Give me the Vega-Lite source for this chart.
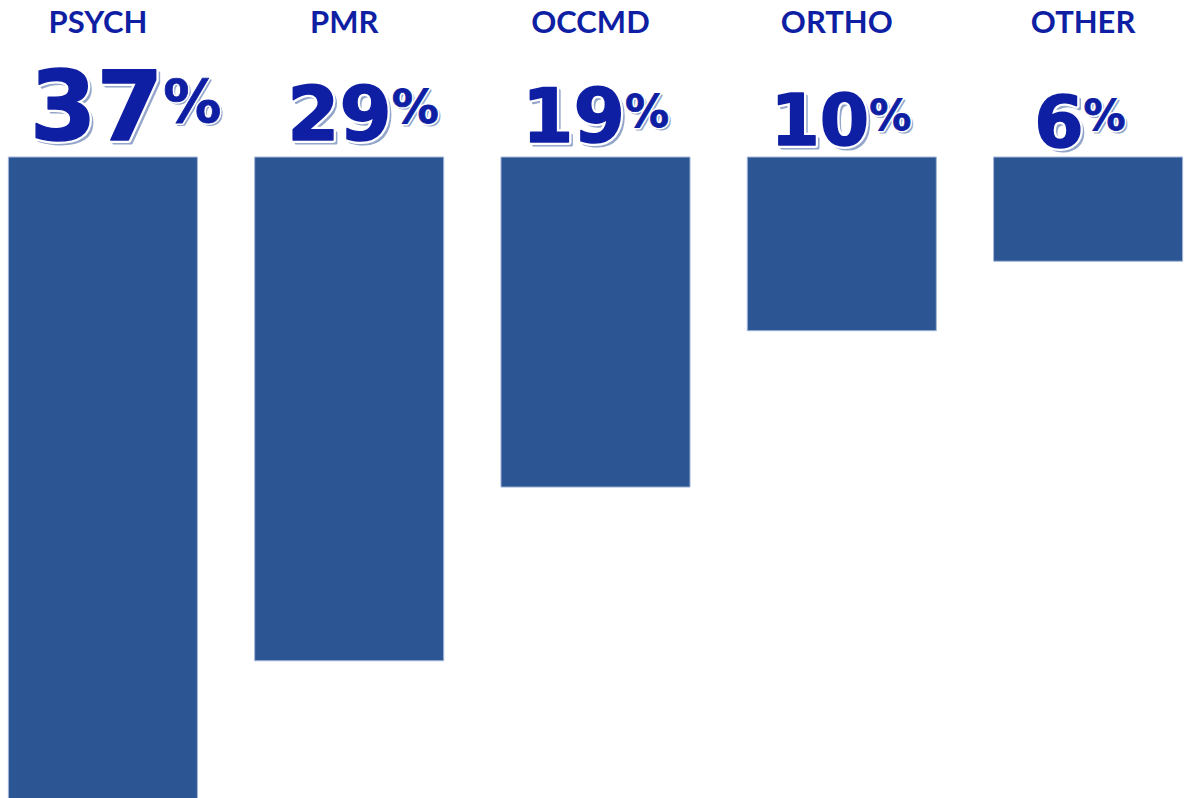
{
  "$schema": "https://vega.github.io/schema/vega-lite/v6.json",
  "width": 1191,
  "height": 798,
  "autosize": "none",
  "padding": 0,
  "background": "white",
  "config": {"view": {"stroke": null}},
  "data": {"values": [
    {"cat": "PSYCH", "value": 37},
    {"cat": "PMR", "value": 29},
    {"cat": "OCCMD", "value": 19},
    {"cat": "ORTHO", "value": 10},
    {"cat": "OTHER", "value": 6}
  ]},
  "resolve": {"scale": {"x": "independent", "xOffset": "independent", "yOffset": "independent", "size": "independent"}},
  "layer": [
    {
      "mark": {"type": "bar", "color": "#2c5593", "stroke": "#a3b6d8", "strokeWidth": 1},
      "encoding": {
        "x": {"field": "cat", "type": "nominal", "sort": null, "axis": null,
              "scale": {"type": "band", "paddingInner": 0.2325, "paddingOuter": 0.034}},
        "y": {"field": "value", "type": "quantitative", "axis": null,
              "scale": {"domain": [-9.04, 36.9], "reverse": true, "nice": false, "zero": false}},
        "y2": {"datum": 0}
      }
    },
    {
      "mark": {"type": "text", "font": "Lato", "fontWeight": "bold", "fontSize": 31, "color": "#0f1fa3", "align": "center", "baseline": "alphabetic", "dx": -5},
      "encoding": {
        "x": {"field": "cat", "type": "nominal", "sort": null, "axis": null,
              "scale": {"type": "band", "paddingInner": 0.2325, "paddingOuter": 0.034}},
        "y": {"datum": -7.14, "type": "quantitative"},
        "text": {"field": "cat"}
      }
    },
    {
      "mark": {"type": "text", "font": "DejaVu Sans", "fontWeight": "bold", "color": "#94a7ca", "stroke": "#94a7ca", "strokeWidth": 3, "strokeJoin": "round", "align": "right", "baseline": "alphabetic", "dx": 3, "dy": 3},
      "encoding": {
        "x": {"field": "cat", "type": "nominal", "sort": null, "axis": null,
              "scale": {"type": "band", "paddingInner": 0.2325, "paddingOuter": 0.034}},
        "xOffset": {"field": "value", "type": "quantitative", "scale": {"domain": [6, 10, 19, 29, 37], "range": [90, 122, 124, 137, 155]}},
        "y": {"datum": 0, "type": "quantitative"},
        "yOffset": {"field": "value", "type": "quantitative", "scale": {"domain": [6, 10, 19, 29, 37], "range": [-10, -12, -15, -17, -17]}},
        "size": {"field": "value", "type": "quantitative", "legend": null, "scale": {"domain": [6, 10, 19, 29, 37], "range": [71, 71, 74, 75, 96]}},
        "text": {"field": "value", "type": "quantitative"}
      }
    },
    {
      "mark": {"type": "text", "font": "DejaVu Sans", "fontWeight": "bold", "color": "white", "stroke": "white", "strokeWidth": 6, "strokeJoin": "round", "align": "right", "baseline": "alphabetic"},
      "encoding": {
        "x": {"field": "cat", "type": "nominal", "sort": null, "axis": null,
              "scale": {"type": "band", "paddingInner": 0.2325, "paddingOuter": 0.034}},
        "xOffset": {"field": "value", "type": "quantitative", "scale": {"domain": [6, 10, 19, 29, 37], "range": [90, 122, 124, 137, 155]}},
        "y": {"datum": 0, "type": "quantitative"},
        "yOffset": {"field": "value", "type": "quantitative", "scale": {"domain": [6, 10, 19, 29, 37], "range": [-10, -12, -15, -17, -17]}},
        "size": {"field": "value", "type": "quantitative", "legend": null, "scale": {"domain": [6, 10, 19, 29, 37], "range": [71, 71, 74, 75, 96]}},
        "text": {"field": "value", "type": "quantitative"}
      }
    },
    {
      "mark": {"type": "text", "font": "DejaVu Sans", "fontWeight": "bold", "color": "#0f1fa3", "stroke": "#0f1fa3", "strokeWidth": 1.5, "strokeJoin": "round", "align": "right", "baseline": "alphabetic"},
      "encoding": {
        "x": {"field": "cat", "type": "nominal", "sort": null, "axis": null,
              "scale": {"type": "band", "paddingInner": 0.2325, "paddingOuter": 0.034}},
        "xOffset": {"field": "value", "type": "quantitative", "scale": {"domain": [6, 10, 19, 29, 37], "range": [90, 122, 124, 137, 155]}},
        "y": {"datum": 0, "type": "quantitative"},
        "yOffset": {"field": "value", "type": "quantitative", "scale": {"domain": [6, 10, 19, 29, 37], "range": [-10, -12, -15, -17, -17]}},
        "size": {"field": "value", "type": "quantitative", "legend": null, "scale": {"domain": [6, 10, 19, 29, 37], "range": [71, 71, 74, 75, 96]}},
        "text": {"field": "value", "type": "quantitative"}
      }
    },
    {
      "mark": {"type": "text", "font": "DejaVu Sans", "fontWeight": "bold", "color": "#94a7ca", "stroke": "#94a7ca", "strokeWidth": 2, "strokeJoin": "round", "align": "left", "baseline": "alphabetic", "dx": 2, "dy": 2},
      "encoding": {
        "x": {"field": "cat", "type": "nominal", "sort": null, "axis": null,
              "scale": {"type": "band", "paddingInner": 0.2325, "paddingOuter": 0.034}},
        "xOffset": {"field": "value", "type": "quantitative", "scale": {"domain": [6, 10, 19, 29, 37], "range": [90, 122, 124, 137, 155]}},
        "y": {"datum": 0, "type": "quantitative"},
        "yOffset": {"field": "value", "type": "quantitative", "scale": {"domain": [6, 10, 19, 29, 37], "range": [-27, -27, -30, -34, -35]}},
        "size": {"field": "value", "type": "quantitative", "legend": null, "scale": {"domain": [6, 10, 19, 29, 37], "range": [42, 42, 44, 47, 58]}},
        "text": {"value": "%"}
      }
    },
    {
      "mark": {"type": "text", "font": "DejaVu Sans", "fontWeight": "bold", "color": "white", "stroke": "white", "strokeWidth": 4, "strokeJoin": "round", "align": "left", "baseline": "alphabetic"},
      "encoding": {
        "x": {"field": "cat", "type": "nominal", "sort": null, "axis": null,
              "scale": {"type": "band", "paddingInner": 0.2325, "paddingOuter": 0.034}},
        "xOffset": {"field": "value", "type": "quantitative", "scale": {"domain": [6, 10, 19, 29, 37], "range": [90, 122, 124, 137, 155]}},
        "y": {"datum": 0, "type": "quantitative"},
        "yOffset": {"field": "value", "type": "quantitative", "scale": {"domain": [6, 10, 19, 29, 37], "range": [-27, -27, -30, -34, -35]}},
        "size": {"field": "value", "type": "quantitative", "legend": null, "scale": {"domain": [6, 10, 19, 29, 37], "range": [42, 42, 44, 47, 58]}},
        "text": {"value": "%"}
      }
    },
    {
      "mark": {"type": "text", "font": "DejaVu Sans", "fontWeight": "bold", "color": "#0f1fa3", "stroke": "#0f1fa3", "strokeWidth": 0.8, "align": "left", "baseline": "alphabetic"},
      "encoding": {
        "x": {"field": "cat", "type": "nominal", "sort": null, "axis": null,
              "scale": {"type": "band", "paddingInner": 0.2325, "paddingOuter": 0.034}},
        "xOffset": {"field": "value", "type": "quantitative", "scale": {"domain": [6, 10, 19, 29, 37], "range": [90, 122, 124, 137, 155]}},
        "y": {"datum": 0, "type": "quantitative"},
        "yOffset": {"field": "value", "type": "quantitative", "scale": {"domain": [6, 10, 19, 29, 37], "range": [-27, -27, -30, -34, -35]}},
        "size": {"field": "value", "type": "quantitative", "legend": null, "scale": {"domain": [6, 10, 19, 29, 37], "range": [42, 42, 44, 47, 58]}},
        "text": {"value": "%"}
      }
    }
  ]
}
